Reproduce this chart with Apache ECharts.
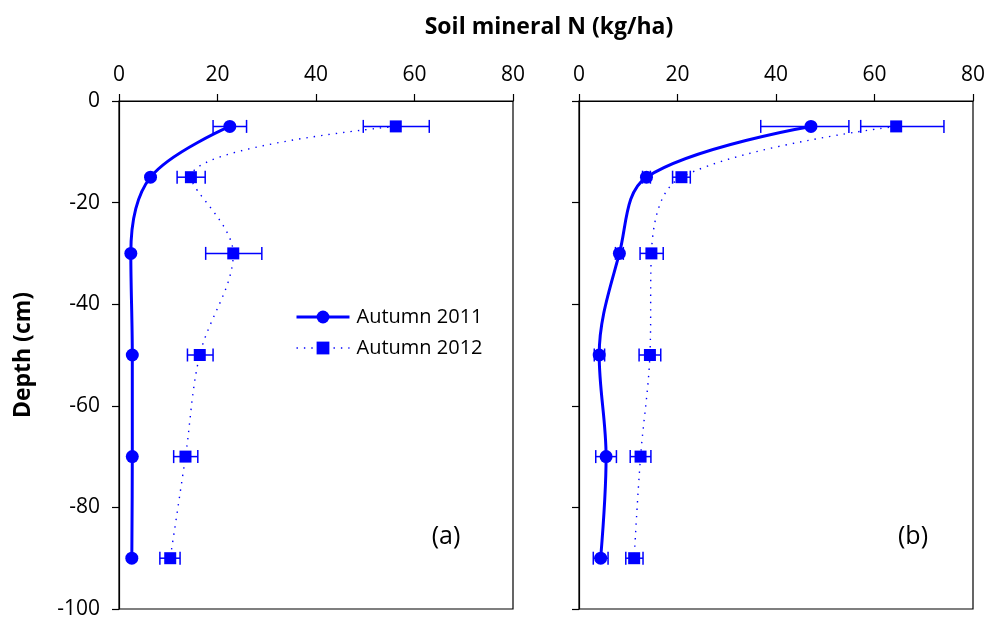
<!DOCTYPE html>
<html>
<head>
<meta charset="utf-8">
<script src="https://cdn.jsdelivr.net/npm/echarts@6/dist/echarts.min.js"></script>
<style>
html,body{margin:0;padding:0;background:#fff;}
#chart{width:989px;height:621px;}
</style>
</head>
<body>
<div id="chart"></div>
<script>
// ---- data ----
var depths = [-5, -15, -30, -50, -70, -90];
var xTicks = [0, 20, 40, 60, 80];
var yTicks = [0, -20, -40, -60, -80, -100];
var seriesNames = ['Autumn 2011', 'Autumn 2012'];
var panelLabels = ['(a)', '(b)'];

// panel (a)
var a2011 = [22.5, 6.4, 2.4, 2.7, 2.7, 2.6];
var a2011Lo = [19.1, null, null, null, null, null];
var a2011Hi = [25.9, null, null, null, null, null];
var a2012 = [56.2, 14.6, 23.2, 16.4, 13.5, 10.4];
var a2012Lo = [49.6, 11.8, 17.6, 13.9, 11.1, 8.3];
var a2012Hi = [63.0, 17.5, 29.0, 19.1, 16.0, 12.4];

// panel (b)
var b2011 = [47.1, 13.7, 8.2, 4.1, 5.5, 4.4];
var b2011Lo = [36.9, 12.9, 7.4, 3.1, 3.4, 2.9];
var b2011Hi = [54.8, 14.5, 9.0, 5.2, 7.6, 5.9];
var b2012 = [64.4, 20.8, 14.7, 14.4, 12.5, 11.2];
var b2012Lo = [57.2, 19.0, 12.4, 12.2, 10.4, 9.5];
var b2012Hi = [74.1, 22.6, 17.1, 16.6, 14.6, 13.0];

// ---- build ----
var FONT = 'Open Sans';
var BLUE = '#0000FF';
var DOT = [1.4, 6];
var chart = echarts.init(document.getElementById('chart'), null, {renderer: 'canvas'});

function pts(vals) {
  return vals.map(function (v, i) { return [v, depths[i]]; });
}
function errPts(lo, hi) {
  var out = [];
  lo.forEach(function (l, i) { if (l != null) out.push([l, hi[i], depths[i]]); });
  return out;
}
function errRender(params, api) {
  var p1 = api.coord([api.value(0), api.value(2)]);
  var p2 = api.coord([api.value(1), api.value(2)]);
  var h = 6.5;
  var st = {stroke: BLUE, lineWidth: 1.5};
  return {
    type: 'group',
    children: [
      {type: 'line', shape: {x1: p1[0], y1: p1[1], x2: p2[0], y2: p2[1]}, style: st},
      {type: 'line', shape: {x1: p1[0], y1: p1[1] - h, x2: p1[0], y2: p1[1] + h}, style: st},
      {type: 'line', shape: {x1: p2[0], y1: p2[1] - h, x2: p2[0], y2: p2[1] + h}, style: st}
    ]
  };
}

var grids = [
  {left: 119, top: 101, width: 394, height: 508, show: true, borderColor: '#000', borderWidth: 1.2, backgroundColor: '#fff'},
  {left: 579, top: 101, width: 394, height: 508, show: true, borderColor: '#000', borderWidth: 1.2, backgroundColor: '#fff'}
];

function xAx(i) {
  return {
    type: 'value', gridIndex: i, position: 'top', min: xTicks[0], max: xTicks[xTicks.length - 1], interval: xTicks[1] - xTicks[0],
    axisLine: {show: true, lineStyle: {color: '#000', width: 1.2}},
    axisTick: {show: true, inside: false, length: 7, lineStyle: {color: '#000', width: 1.2}},
    axisLabel: {show: true, margin: 15, color: '#000', fontFamily: FONT, fontSize: 21},
    splitLine: {show: false}
  };
}
function yAx(i, showLabels) {
  return {
    type: 'value', gridIndex: i, min: yTicks[yTicks.length - 1], max: yTicks[0], interval: 20,
    axisLine: {show: true, onZero: false, lineStyle: {color: '#000', width: 1.2}},
    axisTick: {show: true, inside: false, length: 7, lineStyle: {color: '#000', width: 1.2}},
    axisLabel: {show: showLabels, margin: 19, color: '#000', fontFamily: FONT, fontSize: 21},
    splitLine: {show: false}
  };
}

function lineSeries(name, i, vals, solid) {
  return {
    name: name, type: 'line', xAxisIndex: i, yAxisIndex: i,
    data: pts(vals), smooth: 0.35, z: 5,
    symbol: solid ? 'circle' : 'rect', symbolSize: solid ? 13 : 12,
    itemStyle: {color: BLUE},
    lineStyle: solid ? {color: BLUE, width: 3, type: 'solid'} : {color: BLUE, width: 1.4, type: DOT},
    animation: false
  };
}
function errSeries(i, lo, hi) {
  return {
    type: 'custom', xAxisIndex: i, yAxisIndex: i, z: 4,
    data: errPts(lo, hi), renderItem: errRender,
    encode: {x: [0, 1], y: 2}, animation: false, silent: true
  };
}

var option = {
  backgroundColor: '#fff',
  animation: false,
  grid: grids,
  xAxis: [xAx(0), xAx(1)],
  yAxis: [yAx(0, true), yAx(1, false)],
  legend: {
    show: true, orient: 'vertical', left: 290, top: 302, itemWidth: 53, itemHeight: 16, itemGap: 11,
    data: [
      {name: seriesNames[0], lineStyle: {width: 3}},
      {name: seriesNames[1], lineStyle: {width: 1.4, type: DOT}}
    ],
    textStyle: {color: '#000', fontFamily: FONT, fontSize: 20, padding: [0, 0, 0, 2]},
    selectedMode: false
  },
  series: [
    errSeries(0, a2011Lo, a2011Hi),
    errSeries(0, a2012Lo, a2012Hi),
    errSeries(1, b2011Lo, b2011Hi),
    errSeries(1, b2012Lo, b2012Hi),
    lineSeries(seriesNames[0], 0, a2011, true),
    lineSeries(seriesNames[1], 0, a2012, false),
    lineSeries(seriesNames[0], 1, b2011, true),
    lineSeries(seriesNames[1], 1, b2012, false)
  ],
  graphic: [
    {type: 'text', x: 549, y: 27, style: {text: 'Soil mineral N (kg/ha)', font: 'bold 23px "' + FONT + '"', fill: '#000', textAlign: 'center', textVerticalAlign: 'middle'}},
    {type: 'text', x: 23, y: 355, rotation: Math.PI / 2, style: {text: 'Depth (cm)', font: 'bold 23px "' + FONT + '"', fill: '#000', textAlign: 'center', textVerticalAlign: 'middle'}},
    {type: 'text', x: 446, y: 537, style: {text: panelLabels[0], font: '25px "' + FONT + '"', fill: '#000', textAlign: 'center', textVerticalAlign: 'middle'}},
    {type: 'text', x: 913, y: 537, style: {text: panelLabels[1], font: '25px "' + FONT + '"', fill: '#000', textAlign: 'center', textVerticalAlign: 'middle'}}
  ]
};
chart.setOption(option);
</script>
</body>
</html>
